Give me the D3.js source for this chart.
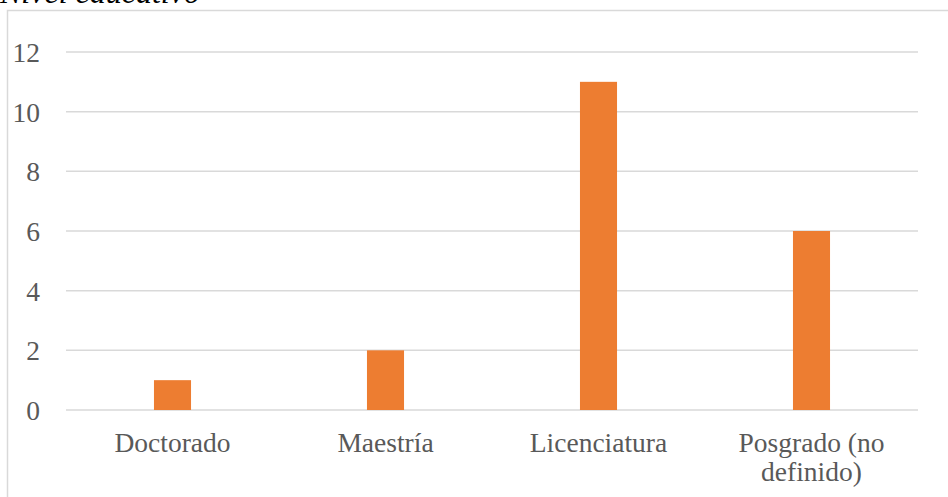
<!DOCTYPE html>
<html><head><meta charset="utf-8">
<script src="https://cdn.jsdelivr.net/npm/d3@7"></script>
<style>body{margin:0;background:#fff;} svg{display:block;}</style>
</head><body>
<script>
const categories = ["Doctorado", "Maestría", "Licenciatura", "Posgrado (no definido)"];
const categoryLines = [["Doctorado"], ["Maestría"], ["Licenciatura"], ["Posgrado (no", "definido)"]];
const values = [1, 2, 11, 6];
const yTicks = [0, 2, 4, 6, 8, 10, 12];
const title = "Nivel educativo";

const W = 948, H = 497;
const svg = d3.select("body").append("svg").attr("width", W).attr("height", H);
const font = "'Liberation Serif','Times New Roman',serif";

// chart area border
svg.append("rect").attr("x", 7.5).attr("y", 10.5).attr("width", 960).attr("height", 520)
  .attr("fill", "none").attr("stroke", "#d9d9d9").attr("stroke-width", 1.5);

// title (cut off at top, as in the reference)
svg.append("text").attr("x", 0).attr("y", 3).attr("font-family", font).attr("font-style", "italic")
  .attr("font-size", 32).attr("fill", "#000").text(title);

const x = d3.scaleBand().domain(categories).range([66, 918]).paddingInner(0.826).paddingOuter(0.413);
const y = d3.scaleLinear().domain([0, 12]).range([410, 52]);

// gridlines
svg.append("g").selectAll("line").data(yTicks).join("line")
  .attr("x1", 66).attr("x2", 918)
  .attr("y1", d => y(d)).attr("y2", d => y(d))
  .attr("stroke", "#d9d9d9").attr("stroke-width", 1.5);

// y axis labels
const yAxis = d3.axisLeft(y).tickValues(yTicks).tickSize(0).tickPadding(0);
const ya = svg.append("g").attr("transform", "translate(40,0)").call(yAxis);
ya.select(".domain").remove();
ya.selectAll("text").attr("font-family", font).attr("font-size", 27.5).attr("fill", "#595959")
  .attr("dy", "0.35em");

// bars
svg.append("g").selectAll("rect").data(values).join("rect")
  .attr("x", (d, i) => x(categories[i]))
  .attr("width", x.bandwidth())
  .attr("y", d => y(d))
  .attr("height", d => y(0) - y(d))
  .attr("fill", "#ED7D31");

// x axis labels
const xl = svg.append("g");
categories.forEach((c, i) => {
  const t = xl.append("text").attr("x", x(c) + x.bandwidth() / 2).attr("y", 452)
    .attr("text-anchor", "middle").attr("font-family", font).attr("font-size", 27.5).attr("fill", "#595959");
  categoryLines[i].forEach((ln, j) => {
    t.append("tspan").attr("x", x(c) + x.bandwidth() / 2).attr("dy", j === 0 ? 0 : 28.5).text(ln);
  });
});
</script>
</body></html>
